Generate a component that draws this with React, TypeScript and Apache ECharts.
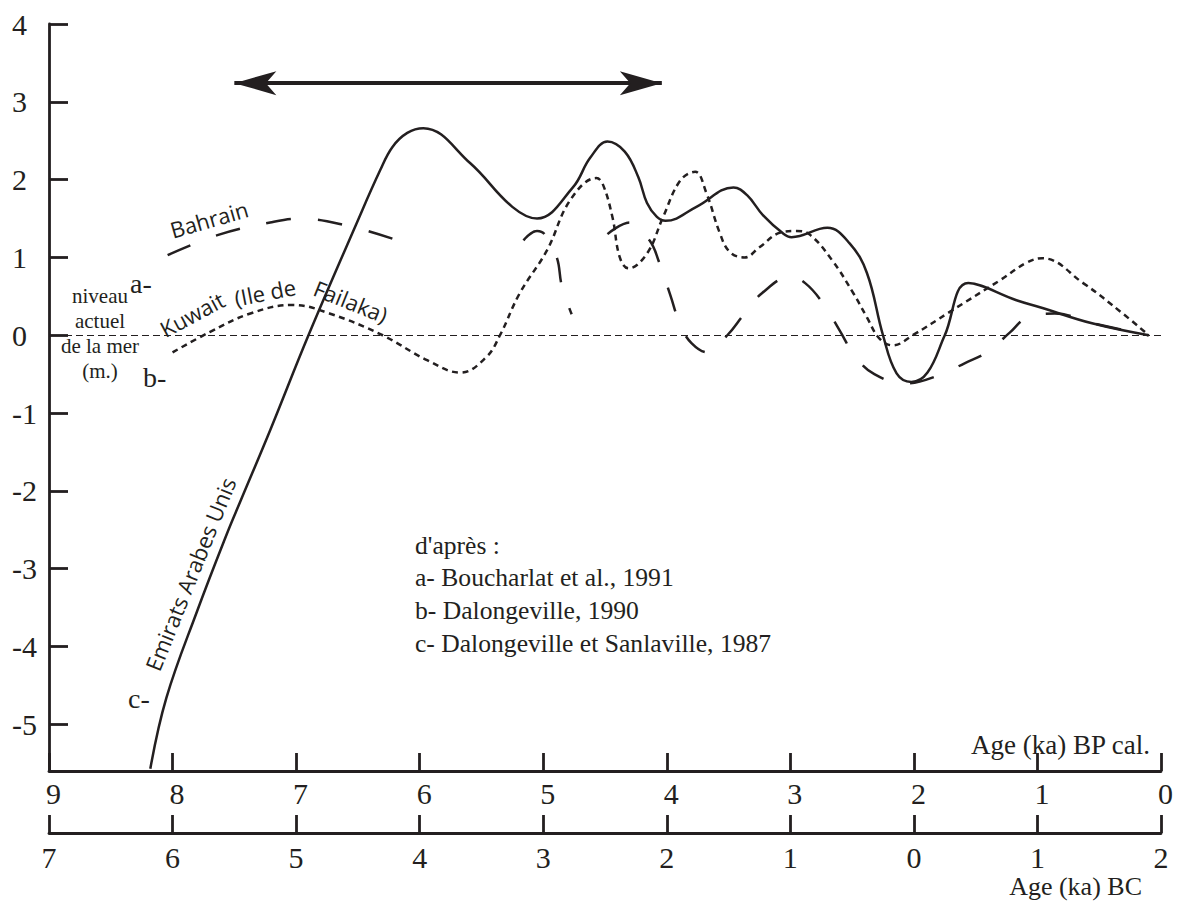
import React, { useEffect, useRef } from 'react';
import * as echarts from 'echarts';

// Age axis (ka BP cal.) and sea-level axis (m)
const bpTicks = [0, 1, 2, 3, 4, 5, 6, 7, 8, 9];
const levelTicks = [-5, -4, -3, -2, -1, 0, 1, 2, 3, 4];

// c- Emirats Arabes Unis (solid line) : [age ka BP, level m]
const emirats: [number, number][] = [
  [8.18, -5.57], [8.05, -4.66], [7.8, -3.54], [7.56, -2.55], [7.45, -2.13], [7.21, -1.22],
  [6.9, 0], [6.51, 1.44], [6.32, 2.12], [6.22, 2.42], [6.1, 2.6], [5.97, 2.66], [5.59, 2.21],
  [5.25, 1.65], [5.05, 1.5], [4.76, 1.9], [4.62, 2.28], [4.48, 2.49], [4.34, 2.36], [4.23, 2.03],
  [4.16, 1.7], [4.08, 1.52], [4.01, 1.47], [3.76, 1.65], [3.46, 1.9], [3.35, 1.8], [3.22, 1.54],
  [3.06, 1.31], [2.99, 1.26], [2.7, 1.38], [2.52, 1.18], [2.38, 0.8], [2.25, 0], [2.14, -0.49],
  [2.02, -0.6], [1.89, -0.48], [1.75, 0], [1.56, 0.67], [1.17, 0.45], [0.98, 0.36], [0.55, 0.15],
  [0.1, 0],
];

// b- Kuwait (Ile de Failaka) (dotted line)
const kuwait: [number, number][] = [
  [8.0, -0.22], [7.7, 0.04], [7.37, 0.28], [7.03, 0.39], [6.73, 0.28], [6.3, 0], [5.94, -0.32],
  [5.67, -0.48], [5.46, -0.28], [5.35, 0], [5.19, 0.54], [4.97, 1.09], [4.78, 1.74], [4.57, 2.02],
  [4.52, 1.95], [4.44, 1.52], [4.38, 1.0], [4.31, 0.86], [4.16, 1.05], [4.03, 1.52], [3.89, 1.99],
  [3.77, 2.1], [3.68, 1.83], [3.57, 1.31], [3.49, 1.07], [3.37, 1.0], [3.25, 1.13], [3.08, 1.32],
  [2.95, 1.34], [2.84, 1.29], [2.66, 0.96], [2.49, 0.54], [2.38, 0.23], [2.28, -0.04], [2.17, -0.13],
  [2.01, 0], [1.71, 0.3], [1.3, 0.71], [1.09, 0.93], [0.96, 0.99], [0.63, 0.67], [0.31, 0.28], [0.1, 0],
];

// a- Bahrain (long dashes), three separate pieces
const bahrainA: [number, number][] = [
  [8.04, 1.03], [7.63, 1.29], [7.21, 1.45], [6.97, 1.5], [6.59, 1.41], [6.18, 1.22],
];
const bahrainB: [number, number][] = [
  [5.16, 1.22], [5.05, 1.34], [4.99, 1.3], [4.89, 1.0], [4.85, 0.64], [4.77, 0.27],
];
const bahrainC: [number, number][] = [
  [4.48, 1.3], [4.3, 1.45], [4.14, 1.22], [4.06, 0.93], [3.97, 0.51], [3.89, 0.13], [3.8, -0.1],
  [3.67, -0.22], [3.51, 0], [3.38, 0.26], [3.23, 0.54], [3.0, 0.75], [2.88, 0.67], [2.74, 0.42],
  [2.6, 0.06], [2.48, -0.26], [2.32, -0.5], [2.07, -0.62], [1.79, -0.51], [1.59, -0.36], [1.41, -0.22],
  [1.22, 0.04], [1.09, 0.22], [0.86, 0.28], [0.54, 0.15], [0.1, 0],
];

// double arrow (period) : ends in ka BP, level in m
const arrowSpan = [7.5, 4.04];
const arrowLevel = 3.24;

const references = [
  "d'après :",
  'a- Boucharlat et al., 1991',
  'b- Dalongeville, 1990',
  'c- Dalongeville et Sanlaville, 1987',
];

const INK = '#231f20';
const SERIF = '"Liberation Serif", "Times New Roman", serif';
const SANS = '"Open Sans", "Noto Sans", sans-serif';

export default function App() {
  const ref = useRef<HTMLDivElement>(null);

  useEffect(() => {
    const chart = echarts.init(ref.current as HTMLDivElement, null, { renderer: 'svg' });

    const axisCommon = {
      type: 'value',
      min: 0,
      max: 9,
      interval: 1,
      inverse: true,
      position: 'bottom',
      splitLine: { show: false },
      axisLine: { show: true, onZero: false, lineStyle: { color: INK, width: 2.8 } },
      axisTick: { show: true, inside: true, length: 18, lineStyle: { color: INK, width: 2.8 } },
    };

    const bahrain: any[] = [...bahrainA, [5.7, '-'], ...bahrainB, [4.6, '-'], ...bahrainC];

    const txt = (text: string, x: number, y: number, size: number, opts: any = {}) => ({
      type: 'text',
      x,
      y,
      rotation: opts.rotation || 0,
      silent: true,
      style: {
        text,
        fill: INK,
        font: `${size}px ${opts.family || SERIF}`,
        align: opts.align || 'left',
        verticalAlign: 'middle',
        lineHeight: opts.lineHeight,
      },
    });

    const option: any = {
      animation: false,
      backgroundColor: '#ffffff',
      grid: { left: 49, right: 18, top: 24, bottom: 132, containLabel: false },
      xAxis: [
        {
          ...axisCommon,
          axisLabel: {
            show: true,
            color: INK,
            fontFamily: SERIF,
            fontSize: 30,
            margin: 7,
            padding: [0, 0, 0, 9],
            showMinLabel: true,
            showMaxLabel: true,
            formatter: (v: number) => String(v),
          },
        },
        {
          ...axisCommon,
          offset: 62,
          axisLabel: {
            show: true,
            color: INK,
            fontFamily: SERIF,
            fontSize: 30,
            margin: 9,
            showMinLabel: true,
            showMaxLabel: true,
            formatter: (v: number) => String(Math.abs(Math.round(v) - 2)),
          },
        },
      ],
      yAxis: {
        type: 'value',
        position: 'left',
        min: -5.6,
        max: 4,
        splitLine: { show: false },
        axisLine: { show: true, onZero: false, lineStyle: { color: INK, width: 2.8 } },
        axisTick: {
          show: true,
          inside: true,
          length: 19,
          customValues: levelTicks,
          lineStyle: { color: INK, width: 2.8 },
        },
        axisLabel: {
          show: true,
          customValues: levelTicks,
          color: INK,
          fontFamily: SERIF,
          fontSize: 30,
          align: 'left',
          margin: 37,
        },
      },
      series: [
        {
          name: 'Emirats Arabes Unis',
          type: 'line',
          xAxisIndex: 0,
          data: emirats,
          smooth: 0.4,
          showSymbol: false,
          silent: true,
          lineStyle: { color: INK, width: 2.5 },
          markLine: {
            silent: true,
            animation: false,
            label: { show: false },
            lineStyle: { color: INK, width: 4, type: 'solid' },
            data: [
              [
                { coord: [arrowSpan[0], arrowLevel], symbol: 'arrow', symbolSize: [18, 42] },
                { coord: [arrowSpan[1], arrowLevel], symbol: 'arrow', symbolSize: [18, 42] },
              ],
            ],
          },
        },
        {
          name: 'Kuwait',
          type: 'line',
          xAxisIndex: 0,
          data: kuwait,
          smooth: 0.4,
          showSymbol: false,
          silent: true,
          lineStyle: { color: INK, width: 2.5, type: [6, 4.5] },
          markLine: {
            silent: true,
            animation: false,
            symbol: ['none', 'none'],
            label: { show: false },
            lineStyle: { color: INK, width: 1.1, type: [7, 4] },
            data: [{ yAxis: 0 }],
          },
        },
        {
          name: 'Bahrain',
          type: 'line',
          xAxisIndex: 0,
          data: bahrain,
          smooth: 0.4,
          connectNulls: false,
          showSymbol: false,
          silent: true,
          lineStyle: { color: INK, width: 2.5, type: [25, 27] },
        },
      ],
      graphic: [
        txt('niveau\nactuel\nde la mer\n(m.)', 100, 333, 21, { align: 'center', lineHeight: 25 }),
        txt('a-', 130, 283, 28),
        txt('b-', 143, 377, 28),
        txt('c-', 128, 698, 28),
        txt('Bahrain', 209, 219, 22, { family: SANS, align: 'center', rotation: 0.28 }),
        txt('Kuwait', 192, 314, 22, { family: SANS, align: 'center', rotation: 0.49 }),
        txt('(Ile de', 265, 292, 22, { family: SANS, align: 'center', rotation: 0.19 }),
        txt('Failaka)', 351, 301, 22, { family: SANS, align: 'center', rotation: -0.38 }),
        txt('Emirats Arabes Unis', 190, 574, 22, { family: SANS, align: 'center', rotation: 1.187 }),
        ...references.map((r, i) => txt(r, 415, 545 + i * 32.7, 25.6)),
        txt('Age (ka) BP cal.', 1150, 745, 27, { align: 'right' }),
        txt('Age (ka) BC', 1142, 886, 26, { align: 'right' }),
      ],
    };

    chart.setOption(option);
    return () => chart.dispose();
  }, []);

  return (
    <div
      ref={ref}
      style={{ position: 'fixed', left: 0, top: 0, width: 1179, height: 903, background: '#ffffff' }}
    />
  );
}
